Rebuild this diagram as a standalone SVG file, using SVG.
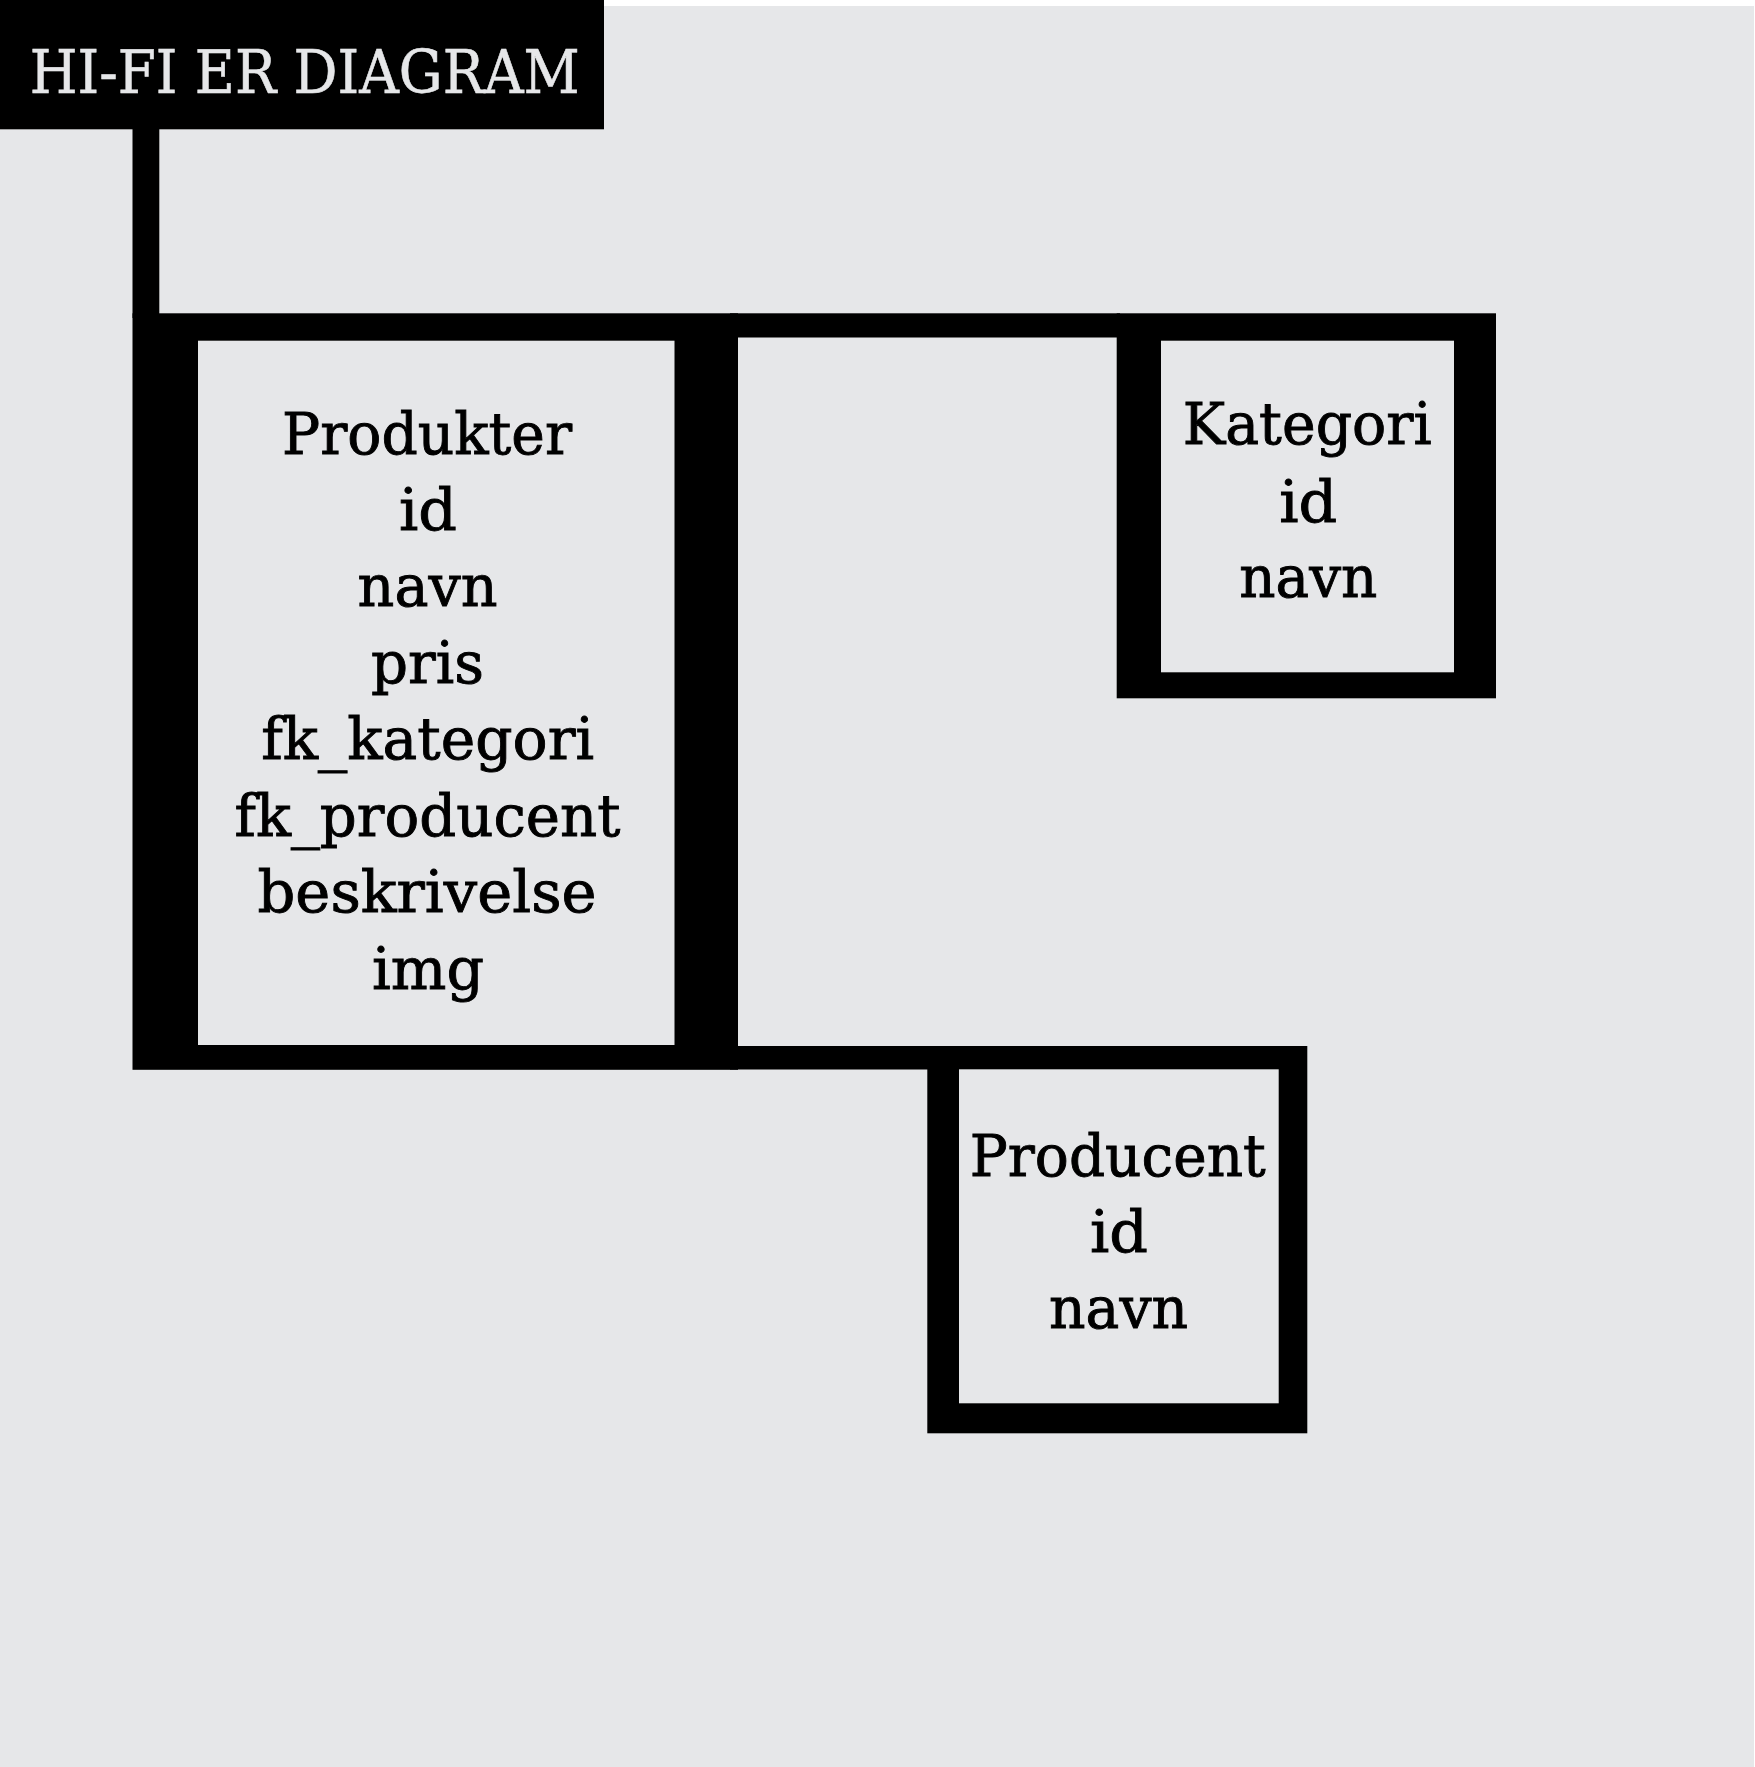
<svg xmlns="http://www.w3.org/2000/svg" width="1755" height="1767" viewBox="0 0 1755 1767">
<style>
.bg{fill:#e6e7e9}
.blk{fill:#000}
.in{fill:#e6e7e9}
.t{font-family:"DejaVu Serif","Liberation Serif",serif;font-size:58px;fill:#000;stroke:#000;stroke-width:0.9px;text-anchor:middle}
.title{font-family:"DejaVu Serif","Liberation Serif",serif;font-size:59px;fill:#e6e7e9;stroke:#e6e7e9;stroke-width:0.6px}
</style>
<rect x="0" y="0" width="1755" height="1767" fill="#ffffff"/>
<rect class="bg" x="0" y="6" width="1754" height="1761"/>
<g id="connectors">
<rect class="blk" x="132.5" y="128" width="26.8" height="190"/>
<rect class="blk" x="730" y="313.3" width="390" height="24.2"/>
<rect class="blk" x="730" y="1046" width="200" height="23.5"/>
</g>
<g id="title">
<rect class="blk" x="0" y="0" width="604" height="129.3"/>
<text class="title" x="29.7" y="92.7" textLength="550" lengthAdjust="spacingAndGlyphs">HI-FI ER DIAGRAM</text>
</g>
<g id="produkter">
<rect class="blk" x="132.5" y="313.3" width="605.5" height="756.5"/>
<rect class="in" x="198" y="340.7" width="476.5" height="704.3"/>
<text class="t" x="427" y="454" textLength="290" lengthAdjust="spacingAndGlyphs">Produkter</text>
<text class="t" x="428" y="530" textLength="58" lengthAdjust="spacingAndGlyphs">id</text>
<text class="t" x="427.6" y="606" textLength="140" lengthAdjust="spacingAndGlyphs">navn</text>
<text class="t" x="427.5" y="682.7" textLength="113" lengthAdjust="spacingAndGlyphs">pris</text>
<text class="t" x="427.7" y="759.3" textLength="333" lengthAdjust="spacingAndGlyphs">fk_kategori</text>
<text class="t" x="427.5" y="835.7" textLength="386" lengthAdjust="spacingAndGlyphs">fk_producent</text>
<text class="t" x="427" y="912.3" textLength="339" lengthAdjust="spacingAndGlyphs">beskrivelse</text>
<text class="t" x="428" y="989.3" textLength="112" lengthAdjust="spacingAndGlyphs">img</text>
</g>
<g id="kategori">
<rect class="blk" x="1116.7" y="313.3" width="379.3" height="385"/>
<rect class="in" x="1161" y="340.7" width="293" height="331.6"/>
<text class="t" x="1307.2" y="444.3" textLength="249" lengthAdjust="spacingAndGlyphs">Kategori</text>
<text class="t" x="1308.3" y="521.7" textLength="58" lengthAdjust="spacingAndGlyphs">id</text>
<text class="t" x="1308.3" y="596.7" textLength="138" lengthAdjust="spacingAndGlyphs">navn</text>
</g>
<g id="producent">
<rect class="blk" x="927.3" y="1046" width="380" height="387.3"/>
<rect class="in" x="959" y="1069.3" width="319.7" height="334"/>
<text class="t" x="1117.8" y="1175.7" textLength="296" lengthAdjust="spacingAndGlyphs">Producent</text>
<text class="t" x="1119" y="1251.7" textLength="58" lengthAdjust="spacingAndGlyphs">id</text>
<text class="t" x="1118.5" y="1327.7" textLength="139" lengthAdjust="spacingAndGlyphs">navn</text>
</g>
</svg>
